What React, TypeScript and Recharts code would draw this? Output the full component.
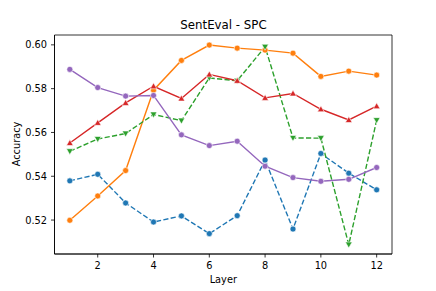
import React from 'react';
import { LineChart, Line, XAxis, YAxis, Label, ReferenceArea } from 'recharts';

const layers = [1, 2, 3, 4, 5, 6, 7, 8, 9, 10, 11, 12];
const blueSeries = [0.5379, 0.5409, 0.5278, 0.5191, 0.5219, 0.5138, 0.522, 0.5474, 0.5159, 0.5504, 0.5414, 0.5338];
const orangeSeries = [0.5199, 0.531, 0.5426, 0.5793, 0.5929, 0.5999, 0.5985, 0.5976, 0.5962, 0.5856, 0.588, 0.5862];
const greenSeries = [0.5514, 0.557, 0.5595, 0.5682, 0.5654, 0.5849, 0.5836, 0.5991, 0.5575, 0.5574, 0.5088, 0.5656];
const redSeries = [0.5552, 0.5644, 0.5735, 0.5811, 0.5755, 0.5865, 0.5836, 0.5758, 0.5778, 0.5706, 0.5657, 0.572];
const purpleSeries = [0.5888, 0.5805, 0.5766, 0.5769, 0.5589, 0.554, 0.556, 0.5446, 0.5394, 0.5377, 0.5386, 0.544];

const xTicks = [2, 4, 6, 8, 10, 12];
const yTicks = [0.52, 0.54, 0.56, 0.58, 0.6];
const xDomain: [number, number] = [0.45, 12.55];
const yDomain: [number, number] = [0.5045, 0.6045];

const data = layers.map((layer, i) => ({
  layer,
  blue: blueSeries[i],
  orange: orangeSeries[i],
  green: greenSeries[i],
  red: redSeries[i],
  purple: purpleSeries[i],
}));

const FONT = '"DejaVu Sans", sans-serif';

const makeCircle = (color: string) => (props: any) => {
  const { cx, cy, index } = props;
  if (cx == null || cy == null) return <g key={`c-${color}-${index}`} />;
  return <circle key={`c-${color}-${index}`} cx={cx} cy={cy} r={3} fill={color} stroke="#ffffff" strokeWidth={0.6} />;
};

const makeTri = (color: string, up: boolean) => (props: any) => {
  const { cx, cy, index } = props;
  if (cx == null || cy == null) return <g key={`t-${color}-${index}`} />;
  const s = 3.4;
  const d = up
    ? `M${cx},${cy - s} L${cx + s},${cy + s * 0.75} L${cx - s},${cy + s * 0.75} Z`
    : `M${cx},${cy + s} L${cx + s},${cy - s * 0.75} L${cx - s},${cy - s * 0.75} Z`;
  return <path key={`t-${color}-${index}`} d={d} fill={color} stroke="#ffffff" strokeWidth={0.6} />;
};

export default function App() {
  return (
    <div style={{ position: 'absolute', left: 0, top: 0, width: 436, height: 291, background: '#fff' }}>
      <LineChart
        width={436}
        height={291}
        data={data}
        margin={{ top: 35, right: 44, bottom: 0, left: 0 }}
        style={{ fontFamily: FONT }}
      >
        <XAxis
          dataKey="layer"
          type="number"
          domain={xDomain}
          ticks={xTicks}
          allowDataOverflow
          height={37}
          tickSize={3.5}
          tickMargin={5}
          stroke="#000"
          tick={{ fill: '#000', fontSize: 9.8, fontFamily: FONT }}
          tickLine={{ stroke: '#000', strokeWidth: 0.8 }}
          axisLine={{ stroke: '#000', strokeWidth: 0.8 }}
        >
          <Label
            content={() => (
              <g>
                <text x={223.3} y={283.3} textAnchor="middle" fontSize={9.8} fontFamily={FONT} fill="#000">
                  Layer
                </text>
                <text x={223.5} y={29.3} textAnchor="middle" fontSize={11.8} fontFamily={FONT} fill="#000">
                  SentEval - SPC
                </text>
              </g>
            )}
          />
        </XAxis>
        <YAxis
          type="number"
          domain={yDomain}
          ticks={yTicks}
          allowDataOverflow
          width={54.5}
          tickSize={3.5}
          tickMargin={4}
          tickFormatter={(v: number) => v.toFixed(2)}
          tick={{ fill: '#000', fontSize: 9.8, fontFamily: FONT }}
          tickLine={{ stroke: '#000', strokeWidth: 0.8 }}
          axisLine={{ stroke: '#000', strokeWidth: 0.8 }}
        >
          <Label
            content={() => (
              <text
                x={16}
                y={144}
                textAnchor="middle"
                dominantBaseline="central"
                transform="rotate(-90, 16, 144)"
                fontSize={9.8}
                fontFamily={FONT}
                fill="#000"
              >
                Accuracy
              </text>
            )}
          />
        </YAxis>
        <ReferenceArea
          x1={xDomain[0]}
          x2={xDomain[1]}
          y1={yDomain[0]}
          y2={yDomain[1]}
          fill="none"
          fillOpacity={0}
          stroke="#000"
          strokeWidth={0.8}
          ifOverflow="extendDomain"
        />
        <Line dataKey="blue" stroke="#1f77b4" strokeWidth={1.4} strokeDasharray="5.2 2.3" dot={makeCircle('#1f77b4')} isAnimationActive={false} />
        <Line dataKey="orange" stroke="#ff7f0e" strokeWidth={1.4} dot={makeCircle('#ff7f0e')} isAnimationActive={false} />
        <Line dataKey="green" stroke="#2ca02c" strokeWidth={1.4} strokeDasharray="5.2 2.3" dot={makeTri('#2ca02c', false)} isAnimationActive={false} />
        <Line dataKey="red" stroke="#d62728" strokeWidth={1.4} dot={makeTri('#d62728', true)} isAnimationActive={false} />
        <Line dataKey="purple" stroke="#9467bd" strokeWidth={1.4} dot={makeCircle('#9467bd')} isAnimationActive={false} />
      </LineChart>
    </div>
  );
}
